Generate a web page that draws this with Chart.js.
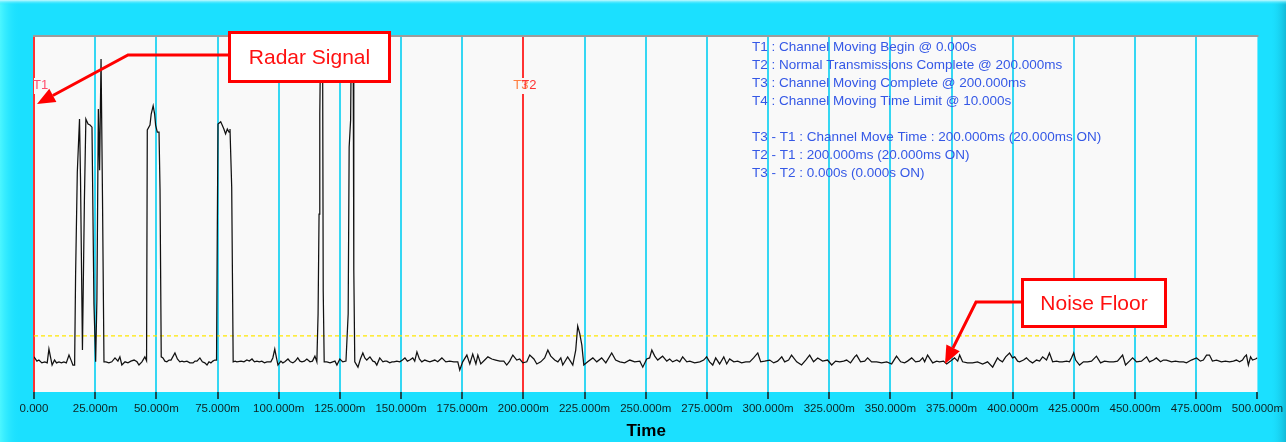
<!DOCTYPE html>
<html>
<head>
<meta charset="utf-8">
<script src="https://cdn.jsdelivr.net/npm/chart.js@4.4.1/dist/chart.umd.min.js"></script>
<style>
html,body{margin:0;padding:0;background:#1BE0FF;}
canvas{display:block;}
</style>
</head>
<body>
<canvas id="c" width="1286" height="442"></canvas>
<script>
// ---- DATA ----
const timeMs = [
0,1.2,2.0,3.2,4.4,5.4,6.1,6.9,7.4,8.4,9.2,10.2,11.2,12.2,13.2,14.3,15.3,15.9,
16.6,17.0,17.7,18.6,19.0,19.8,20.6,21.2,22.1,22.9,23.7,24.5,25.2,25.7,26.3,26.8,27.4,28.0,28.6,
29.4,30.6,31.8,33.1,34.3,35.1,35.9,37.2,38.4,39.6,40.9,42.1,42.9,44.1,45.3,46.0,
46.3,47.4,47.9,48.7,49.3,49.7,50.4,51.1,51.5,52.0,
52.7,53.5,54.3,55.2,56.0,57.6,58.6,59.6,60.5,61.3,62.5,63.7,65.0,65.8,66.6,67.8,68.8,69.8,70.7,71.5,72.3,73.1,73.9,
74.6,74.9,75.2,76.3,76.9,77.6,78.3,79.0,79.7,80.1,80.8,81.2,81.4,
82.2,82.9,84.6,85.8,87.0,88.0,89.1,90.1,91.1,92.1,93.1,94.2,95.2,96.8,97.6,98.4,99.1,99.7,100.9,101.7,102.5,103.8,104.8,105.8,106.8,107.8,108.7,109.5,110.5,111.5,112.8,113.8,114.8,115.6,
116.1,116.5,116.8,117.3,117.9,118.2,118.6,
119.7,121.0,122.1,123.0,123.8,125.0,126.2,127.5,
128.4,128.8,129.4,129.8,130.4,130.7,131.1,
132.4,133.4,134.4,135.2,136.0,137.3,138.5,139.3,140.1,141.3,142.6,143.4,144.2,145.4,146.3,147.1,148.3,149.5,150.6,151.6,152.6,153.6,154.8,155.6,156.5,157.5,158.5,159.7,160.9,
161.8,163.8,165.0,166.7,168.3,169.9,171.6,173.2,174.0,175.2,176.9,178.1,179.3,180.6,181.4,182.6,184.2,185.5,187.1,188.7,190.4,192.0,193.2,194.4,195.7,197.3,198.5,199.8,
201.4,202.6,204.3,205.5,207.1,208.7,210.0,211.2,212.8,214.1,215.3,216.1,218.1,219.4,220.2,221.4,222.2,223.0,223.9,224.7,226.3,228.4,230.0,232.0,233.7,236.1,237.7,239.4,241.4,243.5,245.5,247.6,248.8,
250.4,251.6,252.5,253.7,254.9,256.9,258.6,259.8,261.0,262.7,263.9,265.1,266.8,268.0,270.0,272.1,273.7,274.9,276.1,277.4,278.6,280.2,281.9,283.1,284.3,286.0,287.6,289.2,290.9,292.5,294.1,295.8,297.0,298.6,
300.7,302.3,303.9,305.6,306.8,308.4,309.6,311.7,313.7,315.4,317.0,318.6,320.3,322.3,324.3,326.0,327.6,329.3,330.9,332.1,333.7,335.4,336.2,337.8,339.5,340.7,342.3,344.4,346.4,348.5,
350.5,352.5,354.2,355.8,357.0,358.7,360.3,361.9,363.2,364.0,365.2,367.3,368.9,370.1,371.7,373.0,374.6,376.2,377.5,378.3,379.5,381.5,383.6,385.6,387.7,389.7,391.8,393.8,394.6,395.8,397.1,398.7,399.9,
400.8,402.0,402.8,404.4,405.6,406.9,408.1,409.7,411.0,412.2,413.8,415.0,416.3,417.9,419.1,420.3,422.0,423.2,424.0,424.9,425.7,427.3,428.9,430.6,432.2,434.2,435.9,437.5,439.5,441.2,442.8,444.9,446.1,447.7,449.0,
450.6,452.6,454.7,455.9,457.5,458.7,460.4,461.6,462.8,464.9,466.5,468.1,469.8,471.0,473.0,475.1,476.7,477.9,479.2,480.4,481.6,483.3,485.3,486.9,488.6,490.2,491.4,492.7,493.9,494.7,495.5,496.3,497.2,498.0,499.2,500.0
];
const level = [
9.9,8.7,9.0,8.2,8.5,8.2,12.1,9.3,7.6,9.0,8.2,8.5,8.2,8.5,8.2,10.4,8.7,7.6,
7.6,33.0,62.0,76.9,60.6,11.8,54.1,76.9,75.5,75.2,74.6,24.8,8.5,25.9,79.7,62.5,93.8,54.1,8.5,
8.5,8.2,8.5,9.6,8.7,9.9,7.6,8.5,8.2,8.7,9.0,8.5,7.6,8.5,9.9,8.8,
73.8,75.2,78.3,80.6,78.3,75.2,73.2,73.2,57.2,9.9,
9.6,8.7,8.5,9.0,9.0,11.0,9.3,8.5,8.7,8.5,8.7,8.2,8.2,8.7,8.7,9.6,8.5,8.2,7.6,8.5,8.2,8.7,9.0,
9.0,43.7,75.5,76.1,75.2,74.1,72.7,74.1,73.2,74.1,57.7,24.8,8.5,
8.7,8.5,8.7,8.5,9.0,8.7,9.3,8.5,8.7,8.5,8.7,8.2,8.5,8.5,9.6,12.1,9.6,7.6,8.7,8.2,8.5,9.3,8.5,8.2,8.7,9.6,8.7,8.5,8.7,9.3,8.5,8.7,10.1,8.5,
22.0,50.1,78.3,110,110,28.5,8.5,
8.5,8.2,8.5,8.7,7.6,9.3,8.5,8.7,
22.0,69.0,76.6,110,110,34.4,8.5,
7.0,9.3,11.0,9.6,9.0,9.9,8.7,8.5,7.6,9.6,8.5,8.7,8.7,8.2,8.5,8.5,8.7,8.5,9.0,9.6,8.7,9.0,9.6,8.7,11.3,9.3,8.5,9.0,8.7,
8.5,9.0,8.5,9.6,8.5,8.7,8.5,8.5,6.2,8.5,10.4,7.9,10.7,7.9,10.4,7.9,9.0,9.9,9.3,9.0,8.7,8.7,7.6,8.7,10.4,9.0,9.3,8.2,
8.5,10.4,9.3,7.9,8.5,9.6,11.8,10.1,9.0,8.5,9.6,7.6,9.9,8.5,7.6,11.8,18.6,16.6,13.2,7.6,8.5,9.6,8.5,9.6,8.2,11.0,9.0,8.5,8.2,9.0,8.5,8.7,7.0,
9.3,9.6,11.8,10.1,9.0,10.1,8.7,9.3,8.5,9.0,8.5,9.9,8.5,8.7,8.2,8.5,9.0,9.9,8.5,7.6,9.6,7.9,9.9,7.9,9.3,8.5,8.7,8.2,8.5,8.5,9.6,11.0,8.5,8.7,
9.0,8.2,8.7,9.9,8.5,9.0,10.4,8.5,7.6,9.0,10.4,8.5,9.6,8.7,9.0,7.6,8.7,8.5,8.7,9.0,8.2,9.9,10.4,8.5,8.7,9.6,8.5,8.5,8.2,8.5,
7.9,10.1,8.5,8.2,8.7,9.6,8.5,8.7,9.6,8.5,10.4,8.2,8.7,8.5,8.7,7.9,8.7,9.6,8.7,10.4,8.5,8.2,8.2,8.5,7.9,8.5,7.0,9.6,9.0,8.5,9.9,11.0,9.6,
9.9,8.7,8.5,9.0,9.6,8.7,8.2,9.0,8.7,9.9,9.0,11.0,8.5,8.7,8.5,8.5,8.7,8.5,9.6,11.0,9.0,7.6,8.5,8.5,8.7,10.1,8.2,8.7,8.5,8.5,8.7,10.4,7.6,8.7,9.6,
8.5,8.7,9.9,8.5,9.0,9.6,8.5,9.0,9.0,8.5,8.7,8.5,8.5,8.2,9.0,9.6,8.7,9.0,10.4,10.4,8.7,9.0,8.5,8.7,8.5,8.7,9.0,8.5,9.0,9.9,10.4,7.6,9.9,9.0,9.3,9.6
];
const noiseFloorLevel = 15.8;
const tickLabels = ["0.000","25.000m","50.000m","75.000m","100.000m","125.000m","150.000m","175.000m","200.000m","225.000m","250.000m","275.000m","300.000m","325.000m","350.000m","375.000m","400.000m","425.000m","450.000m","475.000m","500.000m"];
const markerLabels = ["T1","T3","T2"];
const markerTimes = [0,200,200];
const infoLines = [
 "T1 : Channel Moving Begin @ 0.000s",
 "T2 : Normal Transmissions Complete @ 200.000ms",
 "T3 : Channel Moving Complete @ 200.000ms",
 "T4 : Channel Moving Time Limit @ 10.000s",
 "",
 "T3 - T1 : Channel Move Time : 200.000ms (20.000ms ON)",
 "T2 - T1 : 200.000ms (20.000ms ON)",
 "T3 - T2 : 0.000s (0.000s ON)"
];
const calloutTexts = ["Radar Signal","Noise Floor"];
const axisTitle = "Time";

// ---- CHART ----
const FONT = "'Liberation Sans', Arial, sans-serif";
const W = 1286, H = 442;
const signalPoints = timeMs.map((t,i)=>({x:t,y:level[i]}));
const floorPoints = [{x:0,y:noiseFloorLevel},{x:500,y:noiseFloorLevel}];

function arrow(ctx, pts, color){
  ctx.save();
  ctx.strokeStyle=color; ctx.fillStyle=color; ctx.lineWidth=3; ctx.lineJoin='miter';
  const n=pts.length;
  const [tx,ty]=pts[n-1], [px,py]=pts[n-2];
  const ang=Math.atan2(ty-py,tx-px);
  const L=18, hw=7.5;
  const bx=tx-L*Math.cos(ang), by=ty-L*Math.sin(ang);
  ctx.beginPath(); ctx.moveTo(pts[0][0],pts[0][1]);
  for(let i=1;i<n-1;i++) ctx.lineTo(pts[i][0],pts[i][1]);
  ctx.lineTo(bx,by); ctx.stroke();
  ctx.beginPath(); ctx.moveTo(tx,ty);
  ctx.lineTo(bx+hw*Math.sin(ang), by-hw*Math.cos(ang));
  ctx.lineTo(bx-hw*Math.sin(ang), by+hw*Math.cos(ang));
  ctx.closePath(); ctx.fill();
  ctx.restore();
}
function callout(ctx, text, x, y, w, h){
  ctx.save();
  ctx.fillStyle='#FFFFFF'; ctx.fillRect(x,y,w,h);
  ctx.strokeStyle='#FF0000'; ctx.lineWidth=3; ctx.strokeRect(x,y,w,h);
  ctx.fillStyle='#FF1010'; ctx.font='21px '+FONT; ctx.textAlign='center'; ctx.textBaseline='middle';
  ctx.fillText(text, x+w/2, y+h/2+1);
  ctx.restore();
}

const decor = {
  id:'decor',
  beforeDraw(chart){
    const ctx=chart.ctx, a=chart.chartArea;
    ctx.save();
    ctx.fillStyle='#1BE0FF'; ctx.fillRect(0,0,W,H);
    let g=ctx.createLinearGradient(0,0,20,0);
    g.addColorStop(0,'#4CF6FF'); g.addColorStop(1,'rgba(27,224,255,0)');
    ctx.fillStyle=g; ctx.fillRect(0,0,20,H);
    g=ctx.createLinearGradient(1270,0,1286,0);
    g.addColorStop(0,'rgba(27,224,255,0)'); g.addColorStop(1,'#13BAD8');
    ctx.fillStyle=g; ctx.fillRect(1270,0,16,H);
    g=ctx.createLinearGradient(0,0,0,5);
    g.addColorStop(0,'#C8FAFF'); g.addColorStop(1,'rgba(27,224,255,0)');
    ctx.fillStyle=g; ctx.fillRect(0,0,W,5);
    ctx.fillStyle='#F9F9F9'; ctx.fillRect(a.left,a.top,a.right-a.left,a.bottom-a.top);
    ctx.fillStyle='#9C9C9C'; ctx.fillRect(a.left-1,a.top-2,a.right-a.left+2,2);
    ctx.restore();
  },
  afterDraw(chart){
    const ctx=chart.ctx, xs=chart.scales.x, a=chart.chartArea;
    ctx.save();
    // info block
    ctx.font='13.5px '+FONT; ctx.fillStyle='#3558E6'; ctx.textBaseline='middle'; ctx.textAlign='left';
    infoLines.forEach((s,i)=>{ if(s) ctx.fillText(s, 752, 47+i*18.1); });
    // marker labels
    ctx.font='13px '+FONT;
    const colors={T1:'#FF4D6D',T3:'#FF7F40',T2:'#FF3333'};
    const offs={T1:-1,T3:-10,T2:-2};
    markerLabels.forEach((lab,i)=>{
      const px=xs.getPixelForValue(markerTimes[i]);
      ctx.fillStyle='#F9F9F9'; ctx.fillRect(px+offs[lab]+1,78,12,16);
    });
    markerLabels.forEach((lab,i)=>{
      const px=xs.getPixelForValue(markerTimes[i]);
      ctx.fillStyle=colors[lab]; ctx.fillText(lab, px+offs[lab], 85);
    });
    // axis title
    ctx.font='bold 17px '+FONT; ctx.fillStyle='#000'; ctx.textAlign='center';
    ctx.fillText(axisTitle, (a.left+a.right)/2+0.5, 431);
    ctx.restore();
    // callouts
    arrow(ctx, [[229,55],[128,55],[37,104]], '#FF0000');
    callout(ctx, calloutTexts[0], 229.5, 32.5, 160, 49);
    arrow(ctx, [[1022,302],[976,302],[945,364]], '#FF0000');
    callout(ctx, calloutTexts[1], 1022.5, 279.5, 143, 47);
  }
};

new Chart(document.getElementById('c'), {
  type:'line',
  data:{datasets:[
    {data:signalPoints, borderColor:'#111111', borderWidth:1.25, pointRadius:0, tension:0, fill:false},
    {data:floorPoints, borderColor:'#FFE800', borderWidth:1.3, borderDash:[4,3], pointRadius:0, fill:false}
  ]},
  options:{
    responsive:false, animation:false, devicePixelRatio:1,
    layout:{padding:{left:34,right:28,top:37,bottom:0}},
    plugins:{legend:{display:false}, tooltip:{enabled:false}, title:{display:false}},
    scales:{
      x:{type:'linear', min:0, max:500, position:'bottom',
        border:{display:false},
        grid:{
          color:(c)=>{const v=c.tick?c.tick.value:null; if(v===0||v===200) return '#FF3333'; if(v===500) return 'rgba(0,0,0,0)'; return '#35D7F3';},
          lineWidth:2, drawTicks:true, tickLength:7, tickColor:'#1A1A1A', tickWidth:1.5
        },
        ticks:{stepSize:25, autoSkip:false, maxRotation:0, minRotation:0, padding:3, color:'#0E2222',
          font:{family:FONT,size:11.5}, callback:(v)=>tickLabels[Math.round(v/25)]},
        afterFit(s){ s.height=50; }
      },
      y:{display:false, min:0, max:100}
    }
  },
  plugins:[decor]
});
</script>
</body>
</html>
